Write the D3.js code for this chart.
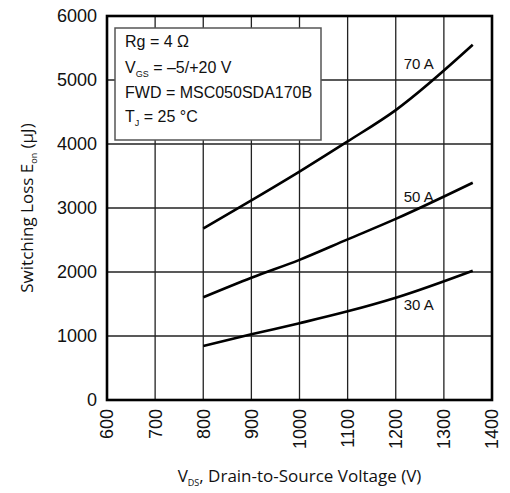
<!DOCTYPE html>
<html>
<head>
<meta charset="utf-8">
<script src="https://cdn.jsdelivr.net/npm/d3@7"></script>
<style>
  html, body { margin: 0; padding: 0; background: #fff; }
  svg { display: block; }
</style>
</head>
<body>
<svg id="chart" width="510" height="493"></svg>
<script>
// ---- data ----
const voltages = [800, 900, 1000, 1100, 1200, 1360];
const series70A = [2680, 3120, 3570, 4040, 4530, 5550];
const series50A = [1605, 1910, 2190, 2510, 2830, 3395];
const series30A = [845, 1026, 1200, 1385, 1598, 2020];
const seriesNames = ["70 A", "50 A", "30 A"];
const xTicks = [600, 700, 800, 900, 1000, 1100, 1200, 1300, 1400];
const yTicks = [0, 1000, 2000, 3000, 4000, 5000, 6000];
const legendLines = ["Rg = 4 Ω", "VGS = –5/+20 V", "FWD = MSC050SDA170B", "TJ = 25 °C"];

// ---- layout ----
const svg = d3.select("#chart");
const L = 107, R = 492, T = 16, B = 400;
const x = d3.scaleLinear().domain([600, 1400]).range([L, R]);
const y = d3.scaleLinear().domain([0, 6000]).range([B, T]);
const tickFont = "'Liberation Sans', Arial, sans-serif";
const titleFont = "'Open Sans', 'Noto Sans', sans-serif";

// grid
const grid = svg.append("g");
grid.selectAll(".vg").data(xTicks.slice(1, -1)).enter().append("line")
  .attr("x1", d => x(d)).attr("x2", d => x(d)).attr("y1", T).attr("y2", B)
  .attr("stroke", "#222").attr("stroke-width", 1.3);
grid.selectAll(".hg").data(yTicks.slice(1, -1)).enter().append("line")
  .attr("y1", d => y(d)).attr("y2", d => y(d)).attr("x1", L).attr("x2", R)
  .attr("stroke", "#222").attr("stroke-width", 1.3);

// legend box
const lg = svg.append("g");
lg.append("rect").attr("x", 115).attr("y", 28).attr("width", 206).attr("height", 112)
  .attr("fill", "#fff").attr("stroke", "#555").attr("stroke-width", 1.5);
const lt = lg.append("g").attr("font-family", tickFont).attr("font-size", 16).attr("fill", "#111");
const baselines = [47, 73, 98, 122];
lt.append("text").attr("x", 125).attr("y", baselines[0]).text(legendLines[0]);
{
  const t = lt.append("text").attr("x", 125).attr("y", baselines[1]);
  t.append("tspan").text("V");
  t.append("tspan").attr("font-size", 9).attr("dy", 4).text("GS");
  t.append("tspan").attr("dy", -4).text(" = –5/+20 V");
}
lt.append("text").attr("x", 125).attr("y", baselines[2]).text(legendLines[2]);
{
  const t = lt.append("text").attr("x", 125).attr("y", baselines[3]);
  t.append("tspan").text("T");
  t.append("tspan").attr("font-size", 9).attr("dy", 4).text("J");
  t.append("tspan").attr("dy", -4).text(" = 25 °C");
}

// curves
const line = d3.line().x(d => x(d[0])).y(d => y(d[1])).curve(d3.curveMonotoneX);
const allSeries = [series70A, series50A, series30A];
const labelOffsets = [-41, -17, 12];
allSeries.forEach((s, i) => {
  const pts = voltages.map((v, j) => [v, s[j]]);
  svg.append("path").attr("d", line(pts)).attr("fill", "none")
    .attr("stroke", "#000").attr("stroke-width", 2.6).attr("stroke-linecap", "butt");
  svg.append("text").attr("x", x(voltages[4]) + 8).attr("y", y(s[4]) + labelOffsets[i])
    .attr("font-family", tickFont).attr("font-size", 15).attr("fill", "#111")
    .text(seriesNames[i]);
});

// frame
svg.append("rect").attr("x", L).attr("y", T).attr("width", R - L).attr("height", B - T)
  .attr("fill", "none").attr("stroke", "#000").attr("stroke-width", 2.6);

// y tick labels
svg.append("g").selectAll("text").data(yTicks).enter().append("text")
  .attr("x", 97).attr("y", d => y(d)).attr("dy", "0.36em")
  .attr("text-anchor", "end").attr("font-family", tickFont).attr("font-size", 18)
  .attr("fill", "#111").text(d => d);

// x tick labels (rotated)
svg.append("g").selectAll("text").data(xTicks).enter().append("text")
  .attr("transform", d => `translate(${x(d)},409) rotate(-90)`)
  .attr("dy", "0.36em").attr("text-anchor", "end")
  .attr("font-family", tickFont).attr("font-size", 18).attr("fill", "#111").text(d => d);

// x title
{
  const t = svg.append("text").attr("x", (L + R) / 2).attr("y", 482)
    .attr("text-anchor", "middle").attr("font-family", titleFont).attr("font-size", 17).attr("fill", "#111");
  t.append("tspan").text("V");
  t.append("tspan").attr("font-size", 9).attr("dy", 4).text("DS");
  t.append("tspan").attr("dy", -4).text(", Drain-to-Source Voltage (V)");
}
// y title
{
  const t = svg.append("text").attr("transform", `translate(33,${(T + B) / 2}) rotate(-90)`)
    .attr("text-anchor", "middle").attr("font-family", titleFont).attr("font-size", 17).attr("fill", "#111");
  t.append("tspan").text("Switching Loss E");
  t.append("tspan").attr("font-size", 9).attr("dy", 4).text("on");
  t.append("tspan").attr("dy", -4).text(" (μJ)");
}
</script>
</body>
</html>
